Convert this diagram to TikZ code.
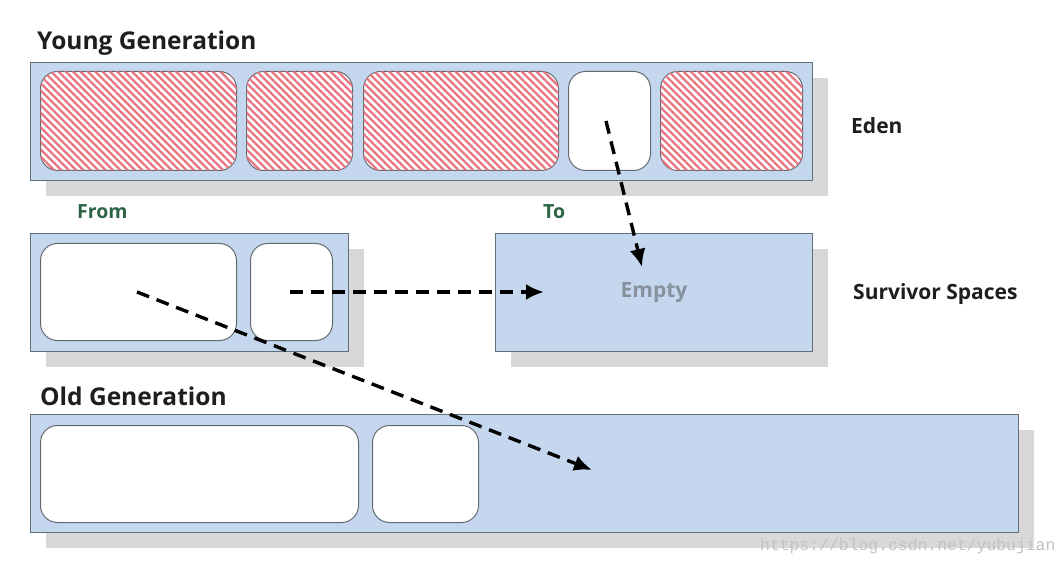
\documentclass[tikz,border=0pt]{standalone}
\usepackage{fontspec}
\setmainfont{Open Sans}
\newfontfamily\markfont{Liberation Mono}
\usetikzlibrary{patterns.meta,arrows.meta,shadows}
\definecolor{spacefill}{RGB}{197,215,238}
\definecolor{spaceline}{RGB}{95,112,122}
\definecolor{cellline}{RGB}{100,105,112}
\definecolor{shadowgray}{RGB}{216,216,216}
\definecolor{hatchred}{RGB}{232,118,128}
\definecolor{labelgreen}{RGB}{45,100,70}
\definecolor{labelgray}{RGB}{135,145,158}
\definecolor{headtext}{RGB}{30,30,30}
\begin{document}
\begin{tikzpicture}[x=1pt,y=-1pt,
  region/.style={draw=spaceline, fill=spacefill, line width=1.2pt,
    anchor=north west, inner sep=0pt,
    drop shadow={shadow xshift=15pt, shadow yshift=-15pt, fill=shadowgray, opacity=1}},
  cell/.style={draw=cellline, line width=1pt, fill=white, rounded corners=17pt,
    anchor=north west, inner sep=0pt},
  live/.style={cell, postaction={pattern={Lines[angle=-45,distance=5.2pt,line width=2.3pt]},
    pattern color=hatchred}},
  heading/.style={font=\bfseries\fontsize{24.5}{26}\selectfont, text=headtext, anchor=base west, inner sep=0pt},
  sidelabel/.style={font=\bfseries\fontsize{21}{23}\selectfont, text=headtext, anchor=base west, inner sep=0pt},
  survlabel/.style={font=\bfseries\fontsize{19.5}{21}\selectfont, text=labelgreen, anchor=base west, inner sep=0pt},
  move/.style={line width=3.4pt, dash pattern=on 13pt off 8pt, -{Latex[length=18pt,width=16pt]}}
]
\useasboundingbox[fill=white] (0,0) rectangle (1058,572);

% Young generation: Eden
\node[region, minimum width=782pt, minimum height=118pt] (young) at (30,62) {};
\node[live, minimum width=196pt, minimum height=99pt] (e1) at (40,71) {};
\node[live, minimum width=106pt, minimum height=99pt] (e2) at (246,71) {};
\node[live, minimum width=195pt, minimum height=99pt] (e3) at (363,71) {};
\node[cell, minimum width=82pt, minimum height=99pt] (e4) at (568,71) {};
\node[live, minimum width=142pt, minimum height=99pt] (e5) at (660,71) {};

% Survivor spaces
\node[region, minimum width=318pt, minimum height=118pt] (from) at (30,233) {};
\node[cell, minimum width=196pt, minimum height=97pt] (f1) at (40,243) {};
\node[cell, minimum width=82pt, minimum height=97pt] (f2) at (250,243) {};
\node[region, minimum width=317pt, minimum height=118pt] (to) at (495,233) {};

% Old generation
\node[region, minimum width=988pt, minimum height=118pt] (old) at (30,414) {};
\node[cell, minimum width=318pt, minimum height=97pt] (o1) at (40,425) {};
\node[cell, minimum width=106pt, minimum height=97pt] (o2) at (372,425) {};

% Labels
\node[heading] (lyoung) at (37,50) {Young Generation};
\node[heading] (lold) at (40,405) {Old Generation};
\node[sidelabel] (leden) at (851,134) {Eden};
\node[sidelabel] (lsurv) at (853,299) {Survivor Spaces};
\node[survlabel] (lfrom) at (77,219) {From};
\node[survlabel] (lto) at (543,219) {To};
\node[font=\bfseries\fontsize{21}{23}\selectfont, text=labelgray, anchor=base] (lempty) at (654,298) {Empty};
\node[font=\markfont\fontsize{16.4}{18}\selectfont, text=black!24, anchor=base west, inner sep=0pt] (wm) at (760,550) {https://blog.csdn.net/yubujian};

% Copy paths
\coordinate (s1) at (606,121);
\coordinate (t1) at (642,267);
\coordinate (s2) at (290,292);
\coordinate (t2) at (544,292);
\coordinate (s3) at (137,292);
\coordinate (t3) at (592,470);
\draw[move] (s1) -- (t1);
\draw[move] (s2) -- (t2);
\draw[move] (s3) -- (t3);
\end{tikzpicture}
\end{document}
